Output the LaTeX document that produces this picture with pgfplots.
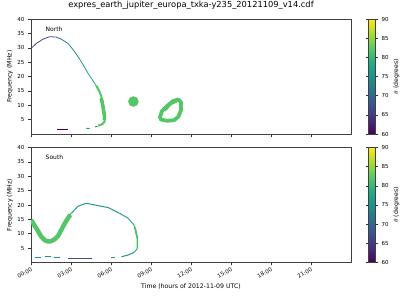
\documentclass[border=0pt]{standalone}
\usepackage{pgfplots}
\pgfplotsset{compat=1.18}
\usepackage{fontspec}
\setmainfont{DejaVu Sans}
\definecolor{vgreen}{HTML}{55C667}
\definecolor{vteal}{HTML}{21918C}
\definecolor{vblue}{HTML}{3B528B}
\definecolor{vpurple}{HTML}{440154}
\pgfplotsset{
 myaxis/.style={
  scale only axis, width=320pt, height=115pt,
  xmin=0, xmax=24, ymin=0, ymax=40,
  xtick={0,3,...,21}, ytick={5,10,...,40},
  tick align=outside, tick pos=left,
  major tick length=3pt,
  tick style={black!80, line width=0.5pt},
  axis line style={line width=0.6pt, black!75},
  ticklabel style={font=\fontsize{5.5}{6}\selectfont},
  /pgf/number format/assume math mode=true,
  ylabel={Frequency (MHz)},
  every axis y label/.style={at={(axis description cs:0,0.5)}, xshift=-21pt, rotate=90, anchor=center, font=\fontsize{6.2}{7}\selectfont},
  colorbar, colormap/viridis, point meta min=60, point meta max=90,
  colorbar style={
    scale only axis, width=7pt, height=115pt,
    at={(parent axis.north east)}, anchor=north west, xshift=9pt,
    ytick={60,65,...,90}, tick align=outside, major tick length=2.5pt,
    yticklabel style={font=\fontsize{5.5}{6}\selectfont},
    /pgf/number format/assume math mode=true,
    axis line style={line width=0.5pt, black!75},
    ylabel={$\theta$ (degrees)},
    every axis y label/.style={at={(axis description cs:1,0.5)}, xshift=21pt, rotate=90, anchor=center, font=\fontsize{6.2}{7}\selectfont},
  },
  unbounded coords=jump,
 }
}
\begin{document}
\begin{tikzpicture}
\useasboundingbox (0,0) rectangle (400pt,-300pt);
% ---------- North ----------
\begin{axis}[myaxis, at={(31pt,-19pt)}, anchor=north west,
  xticklabels={},
  title={expres\_earth\_jupiter\_europa\_txka-y235\_20121109\_v14.cdf},
  title style={font=\fontsize{8.3}{9}\selectfont, at={(axis description cs:0.5,1)}, anchor=base, yshift=6pt},
]
\node[anchor=west, font=\fontsize{6}{7}\selectfont] at (axis description cs:0.035,0.913) {North};
\addplot[mesh, point meta=explicit, line width=0.8pt] table[meta=m] {
x y m
0.02 29.8 66
0.4 31.5 66
0.9 33.0 66
1.4 33.85 67
1.9 33.7 68
2.27 33.0 70
2.78 31.5 73
3.28 28.6 75
3.78 25.1 76
4.28 21.1 76
4.78 17.6 78
5.08 15.3 81
};
\addplot[vgreen, line width=2pt, line join=round] coordinates {
(4.9,16.8) (5.08,15.3) (5.28,13.0) (5.4,9.5) (5.52,6.6) (5.52,4.3) (5.33,3.35) (5.03,2.9)};
\addplot[vgreen, line width=3.6pt, line join=round] coordinates {
(5.27,12.5) (5.4,9.5) (5.5,6.6) (5.5,4.8)};
\addplot[vteal, line width=1pt] coordinates {(4.15,1.95) (4.4,1.95) (nan,nan) (4.8,2.5) (5.0,2.6)};
\addplot[vpurple, line width=1.3pt] coordinates {(1.97,1.6) (2.78,1.6)};
\addplot[only marks, mark=*, mark size=5pt, vgreen] coordinates {(7.68,11.3)};
\addplot[vgreen, line width=3.8pt, line join=round] coordinates {
(9.675,5.9) (9.825,8.0) (10.2,9.7) (10.65,11.45) (11.03,12.0) (11.25,11.1) (11.25,8.3) (11.06,6.05) (10.73,4.8) (10.2,4.6) (9.75,5.0) (9.675,5.9) (9.825,8.0)};
\addplot[vgreen, line width=3pt, line join=round] coordinates {(10.0,8.2) (10.5,10.6) (10.9,11.4)};
\end{axis}
% ---------- South ----------
\begin{axis}[myaxis, at={(31pt,-147.5pt)}, anchor=north west,
  xticklabels={00:00,03:00,06:00,09:00,12:00,15:00,18:00,21:00},
  xticklabel style={rotate=30, anchor=north east, inner sep=1pt},
  xlabel={Time (hours of 2012-11-09 UTC)},
  every axis x label/.style={at={(axis description cs:0.5,0)}, yshift=-24.5pt, anchor=center, font=\fontsize{6.2}{7}\selectfont},
]
\node[anchor=west, font=\fontsize{6}{7}\selectfont] at (axis description cs:0.035,0.913) {South};
\addplot[vgreen, line width=4.5pt, line join=round] coordinates {
(0.0,14.8) (0.4,11.9) (0.77,9.0) (1.05,7.7) (1.28,7.3) (1.5,7.4) (1.75,8.0) (2.03,9.2) (2.53,13.6) (2.8,15.6) (2.95,16.6)};
\addplot[mesh, point meta=explicit, line width=1pt] table[meta=m] {
x y m
2.9 16.6 80
3.03 17.1 78
3.53 19.6 76
4.15 20.6 76
4.78 20.0 76
5.78 19.1 76
6.65 17.1 77
7.28 15.4 78
7.73 13.0 80
7.98 8.4 81
7.98 4.9 81
7.73 3.5 78
7.28 2.6 76
6.78 2.0 76
};
\addplot[vgreen!85!vteal, line width=1.7pt, line join=round] coordinates {(7.8,12.2) (7.98,8.4) (7.98,4.9)};
\addplot[vteal, line width=1pt] coordinates {
(0.27,1.8) (0.73,1.8) (nan,nan) (1.03,2.1) (1.48,2.1) (nan,nan) (1.73,1.8) (2.15,1.8) (nan,nan) (5.98,1.8) (6.28,1.8)};
\addplot[vblue, line width=1.3pt] coordinates {(2.78,1.45) (4.6,1.45)};
\end{axis}
\end{tikzpicture}
\end{document}
